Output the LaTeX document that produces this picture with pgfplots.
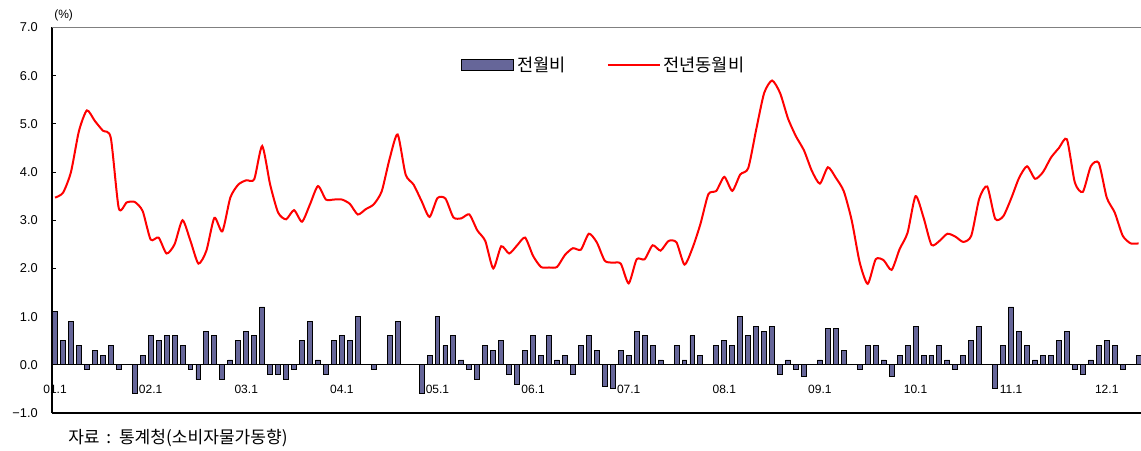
\documentclass[border=0pt]{standalone}
\usepackage{fontspec}
\setmainfont{Liberation Sans}
\newfontfamily\kr{Noto Sans CJK KR}
\usepackage{pgfplots}
\pgfplotsset{compat=1.18}
\usepackage{pgfplotstable}
\usetikzlibrary{calc}
\definecolor{barcol}{HTML}{666699}

\pgfplotstableread{
m mom yoy
0 1.1 3.47
1 0.5 3.57
2 0.9 4.0
3 0.4 4.85
4 -0.1 5.28
5 0.3 5.06
6 0.2 4.86
7 0.4 4.71
8 -0.1 3.25
9 0 3.37
10 -0.6 3.38
11 0.2 3.19
12 0.6 2.6
13 0.5 2.64
14 0.6 2.31
15 0.6 2.5
16 0.4 3.0
17 -0.1 2.57
18 -0.3 2.1
19 0.7 2.37
20 0.6 3.05
21 -0.3 2.77
22 0.1 3.47
23 0.5 3.74
24 0.7 3.83
25 0.6 3.85
26 1.2 4.54
27 -0.2 3.74
28 -0.2 3.16
29 -0.3 3.02
30 -0.1 3.21
31 0.5 2.97
32 0.9 3.33
33 0.1 3.71
34 -0.2 3.43
35 0.5 3.43
36 0.6 3.43
37 0.5 3.34
38 1.0 3.12
39 0 3.23
40 -0.1 3.33
41 0 3.6
42 0.6 4.28
43 0.9 4.78
44 0 3.95
45 0 3.74
46 -0.6 3.4
47 0.2 3.07
48 1.0 3.46
49 0.4 3.45
50 0.6 3.06
51 0.1 3.04
52 -0.1 3.12
53 -0.3 2.79
54 0.4 2.57
55 0.3 2.0
56 0.5 2.46
57 -0.2 2.31
58 -0.4 2.48
59 0.3 2.64
60 0.6 2.26
61 0.2 2.03
62 0.6 2.02
63 0.1 2.03
64 0.2 2.28
65 -0.2 2.42
66 0.4 2.39
67 0.6 2.72
68 0.3 2.54
69 -0.45 2.16
70 -0.5 2.12
71 0.3 2.1
72 0.2 1.69
73 0.7 2.19
74 0.6 2.19
75 0.4 2.48
76 0.1 2.37
77 0 2.57
78 0.4 2.54
79 0.1 2.08
80 0.6 2.42
81 0.2 2.92
82 0 3.54
83 0.4 3.61
84 0.5 3.9
85 0.4 3.61
86 1.0 3.95
87 0.6 4.08
88 0.8 4.88
89 0.7 5.64
90 0.8 5.9
91 -0.2 5.64
92 0.1 5.11
93 -0.1 4.74
94 -0.25 4.45
95 0 4.02
96 0.1 3.76
97 0.75 4.1
98 0.75 3.88
99 0.3 3.6
100 0 2.99
101 -0.1 2.12
102 0.4 1.68
103 0.4 2.19
104 0.1 2.17
105 -0.25 1.97
106 0.2 2.4
107 0.4 2.74
108 0.8 3.5
109 0.2 3.06
110 0.2 2.49
111 0.4 2.57
112 0.1 2.72
113 -0.1 2.66
114 0.2 2.55
115 0.5 2.68
116 0.8 3.45
117 0 3.7
118 -0.5 3.03
119 0.4 3.08
120 1.2 3.45
121 0.7 3.88
122 0.4 4.12
123 0.1 3.86
124 0.2 4.0
125 0.2 4.3
126 0.5 4.5
127 0.7 4.68
128 -0.1 3.78
129 -0.2 3.59
130 0.1 4.12
131 0.4 4.19
132 0.5 3.47
133 0.4 3.16
134 -0.1 2.68
135 0 2.52
136 0.2 2.52
}\data

\begin{document}
\begin{tikzpicture}
\begin{axis}[name=ax, scale only axis, width=816.75pt, height=289.125pt,
  xmin=-0.38, xmax=136.3, ymin=-1, ymax=7,
  axis x line=bottom, axis y line=left,
  axis line style={-, black, line width=0.8pt},
  ytick={-1,0,...,7},
  yticklabels={−1.0,0.0,1.0,2.0,3.0,4.0,5.0,6.0,7.0},
  yticklabel style={font=\fontsize{9.6}{11}\selectfont, inner sep=0pt, xshift=-10.5pt},
  tick align=inside, major tick length=3pt,
  ytick style={black, line width=0.6pt},
  xtick={0,12,...,132},
  xticklabels={01.1,02.1,03.1,04.1,05.1,06.1,07.1,08.1,09.1,10.1,11.1,12.1},
  xtick style={draw=none},
  xticklabel style={anchor=center, yshift=18pt, font=\fontsize{9}{10}\selectfont},
  extra y ticks={0}, extra y tick labels={},
  extra y tick style={grid=major, major grid style={black, line width=0.6pt}, tick style={draw=none}},
  legend style={draw=none, fill=none, inner sep=0pt, at={(axis description cs:0.3756,0.9027)}, anchor=west,
    font=\kr\fontsize{13.2}{15}\selectfont, /tikz/every even column/.append style={column sep=29pt}},
  legend columns=2, legend cell align=left,
]
\addplot[ybar, bar width=0.62, fill=barcol, draw=black, line width=0.7pt,
  legend image code/.code={\draw[fill=barcol, draw=black, line width=0.9pt] (0pt,-4pt) rectangle (39pt,4pt);}]
  table[x=m,y=mom]{\data};
\addlegendentry{전월비}
\addplot[red, line width=1.5pt, smooth, tension=0.4, mark=none,
  legend image code/.code={\draw[red, line width=1.2pt] (0pt,0pt) -- (39pt,0pt);}]
  table[x=m,y=yoy]{\data};
\addlegendentry{전년동월비}
\end{axis}
\draw[gray, line width=0.8pt] (ax.north west) -- (ax.north east);
\node[anchor=south west, font=\fontsize{9}{11}\selectfont, inner sep=0pt] at ($(ax.north west)+(1.5pt,5pt)$) {(\%)};
\node[anchor=west, font=\kr\fontsize{12.8}{15}\selectfont, inner sep=0pt] at ($(ax.south west)+(12pt,-18.75pt)$) {자료 \,:\, 통계청(소비자물가동향)};
\pgfresetboundingbox
\path[use as bounding box] ($(ax.south west)+(-39pt,-27.75pt)$) rectangle ($(ax.north east)+(0pt,20.625pt)$);
\end{tikzpicture}
\end{document}
